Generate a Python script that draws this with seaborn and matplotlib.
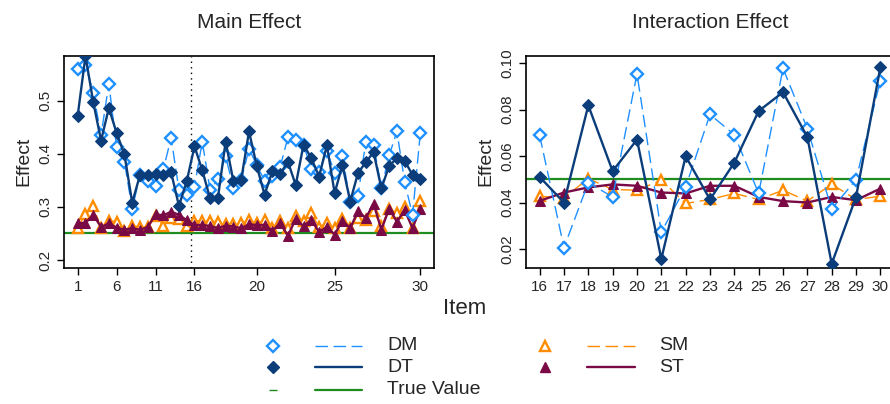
import numpy as np
import pandas as pd
import matplotlib
matplotlib.use("Agg")
import matplotlib.pyplot as plt
import seaborn as sns

# ---------------- data ----------------
main_pos = list(range(1, 46))
main_tick_labels = ["1", "6", "11", "16", "20", "25", "30"]

main_DM = [0.560, 0.568, 0.515, 0.435, 0.532, 0.412, 0.385, 0.296, 0.360, 0.349,
           0.340, 0.371, 0.430, 0.332, 0.322, 0.338, 0.423, 0.332, 0.352, 0.395,
           0.335, 0.351, 0.409, 0.379, 0.349, 0.358, 0.375, 0.431, 0.426, 0.417,
           0.372, 0.365, 0.406, 0.364, 0.395, 0.310, 0.321, 0.423, 0.417, 0.335,
           0.397, 0.442, 0.346, 0.285, 0.439]
main_DT = [0.472, 0.584, 0.497, 0.425, 0.486, 0.439, 0.399, 0.308, 0.360, 0.360,
           0.362, 0.360, 0.365, 0.302, 0.348, 0.414, 0.369, 0.316, 0.316, 0.423,
           0.348, 0.351, 0.442, 0.377, 0.323, 0.367, 0.362, 0.385, 0.341, 0.417,
           0.392, 0.357, 0.416, 0.326, 0.379, 0.310, 0.364, 0.384, 0.403, 0.335,
           0.377, 0.392, 0.387, 0.360, 0.353]
main_SM = [0.260, 0.286, 0.301, 0.260, 0.274, 0.272, 0.255, 0.264, 0.263, 0.262,
           0.282, 0.264, 0.279, 0.277, 0.265, 0.274, 0.274, 0.274, 0.271, 0.268,
           0.268, 0.269, 0.275, 0.269, 0.275, 0.260, 0.274, 0.260, 0.282, 0.274,
           0.288, 0.262, 0.270, 0.260, 0.277, 0.260, 0.279, 0.275, 0.292, 0.264,
           0.296, 0.288, 0.299, 0.260, 0.311]
main_ST = [0.269, 0.270, 0.285, 0.262, 0.269, 0.261, 0.257, 0.260, 0.257, 0.262,
           0.286, 0.284, 0.291, 0.285, 0.275, 0.266, 0.266, 0.264, 0.260, 0.265,
           0.263, 0.260, 0.267, 0.266, 0.266, 0.255, 0.269, 0.246, 0.277, 0.264,
           0.275, 0.253, 0.262, 0.248, 0.274, 0.260, 0.292, 0.279, 0.306, 0.257,
           0.297, 0.272, 0.294, 0.260, 0.297]
main_true = 0.25

int_items = list(range(16, 31))
int_DM = [0.0689, 0.0206, 0.0485, 0.0424, 0.0954, 0.0272, 0.0467, 0.0779,
          0.0692, 0.0439, 0.0978, 0.0718, 0.0372, 0.0499, 0.0925]
int_DT = [0.0510, 0.0400, 0.0818, 0.0535, 0.0671, 0.0157, 0.0599, 0.0413,
          0.0572, 0.0794, 0.0875, 0.0682, 0.0136, 0.0424, 0.0982]
int_SM = [0.0427, 0.0420, 0.0503, 0.0456, 0.0453, 0.0496, 0.0396, 0.0413,
          0.0439, 0.0413, 0.0453, 0.0406, 0.0479, 0.0413, 0.0427]
int_ST = [0.0407, 0.0443, 0.0465, 0.0478, 0.0472, 0.0443, 0.0439, 0.0472,
          0.0472, 0.0424, 0.0406, 0.0400, 0.0424, 0.0410, 0.0460]
int_true = 0.05

series_names = ["DM", "DT", "SM", "ST"]

# ---------------- style ----------------
sns.set_style("white")
plt.rcParams["font.family"] = ["Liberation Sans", "DejaVu Sans"]

C_DM = "#1E90FF"
C_DT = "#0A3D7A"
C_SM = "#FF8C00"
C_ST = "#7A0A45"
C_TV = "#1E8C1E"

styles = {
    "DM": dict(color=C_DM, marker="D", markersize=6.0, markerfacecolor="white",
               markeredgecolor=C_DM, markeredgewidth=1.7, linestyle=(0, (9, 4)), linewidth=1.0),
    "DT": dict(color=C_DT, marker="D", markersize=6.0, markerfacecolor=C_DT,
               markeredgecolor=C_DT, linestyle="-", linewidth=1.7),
    "SM": dict(color=C_SM, marker="^", markersize=7.0, markerfacecolor="white",
               markeredgecolor=C_SM, markeredgewidth=1.7, linestyle=(0, (9, 4)), linewidth=1.0),
    "ST": dict(color=C_ST, marker="^", markersize=7.0, markerfacecolor=C_ST,
               markeredgecolor=C_ST, linestyle="-", linewidth=1.7),
}

W, H = 890, 404
fig = plt.figure(figsize=(W / 100, H / 100), dpi=100)

def px_axes(l, t, r, b):
    return fig.add_axes([l / W, 1 - b / H, (r - l) / W, (b - t) / H])

axL = px_axes(64, 55.5, 434, 268)
axR = px_axes(526, 55.5, 894, 268)

def draw(ax, x, data, true_val):
    ax.axhline(true_val, color=C_TV, linewidth=1.6, zorder=1)
    for name in series_names:
        sns.lineplot(x=x, y=data[name], ax=ax, zorder=3 if name in ("DM", "DT") else 2,
                     **styles[name])

draw(axL, main_pos, {"DM": main_DM, "DT": main_DT, "SM": main_SM, "ST": main_ST}, main_true)
draw(axR, int_items, {"DM": int_DM, "DT": int_DT, "SM": int_SM, "ST": int_ST}, int_true)

axL.axvline(15.5, color="black", linestyle=(0, (1, 3)), linewidth=1.0, zorder=0)

for ax in (axL, axR):
    for s in ax.spines.values():
        s.set_visible(True)
        s.set_color("black")
        s.set_linewidth(1.2)
    ax.tick_params(axis="both", which="both", direction="out", length=5, width=1,
                   color="black", labelsize=11, bottom=True, left=True)
    ax.set_xlabel("")
    ax.set_ylabel("Effect", fontsize=14, labelpad=4)

axL.set_xlim(-0.76, 46.76)
axL.set_ylim(0.185, 0.585)
axL.set_xticks([1, 6, 11, 16, 24, 34, 45])
axL.set_xticklabels(main_tick_labels)
axL.set_yticks([0.2, 0.3, 0.4, 0.5])
axL.set_yticklabels(["0.2", "0.3", "0.4", "0.5"], rotation=90, va="center")
axL.set_title("Main Effect", fontsize=15, pad=20)

axR.set_xlim(15.44, 30.56)
axR.set_ylim(0.0118, 0.1033)
axR.set_xticks(int_items)
axR.set_xticklabels([str(i) for i in int_items])
axR.set_yticks([0.02, 0.04, 0.06, 0.08, 0.10])
axR.set_yticklabels(["0.02", "0.04", "0.06", "0.08", "0.10"], rotation=90, va="center")
axR.set_title("Interaction Effect", fontsize=15, pad=20)

fig.text(465 / W, 1 - 308 / H, "Item", fontsize=16, ha="center", va="center")

# ---------------- legend ----------------
axLeg = fig.add_axes([0, 0, 1, 1], zorder=-1)
axLeg.set_xlim(0, W)
axLeg.set_ylim(H, 0)
axLeg.axis("off")
axLeg.patch.set_alpha(0)

leg_rows = [("DM", 273, 315, 362, 387, 346),
            ("DT", 273, 315, 362, 387, 367),
            ("SM", 545, 587, 635, 659, 346),
            ("ST", 545, 587, 635, 659, 367)]
for name, mx, l0, l1, tx, y in leg_rows:
    st = dict(styles[name])
    ls = st.pop("linestyle"); lw = st.pop("linewidth")
    col = st.pop("color")
    axLeg.plot([mx], [y], linestyle="none", **st)
    axLeg.plot([l0, l1], [y, y], color=col, linestyle=ls, linewidth=lw)
    axLeg.text(tx, y, name, fontsize=14, va="center", ha="left")
axLeg.plot([273], [390], marker="_", color=C_TV, markersize=6, linestyle="none")
axLeg.plot([315, 362], [390, 390], color=C_TV, linewidth=1.6)
axLeg.text(387, 390, "True Value", fontsize=14, va="center", ha="left")

fig.savefig("out.png", dpi=100)
